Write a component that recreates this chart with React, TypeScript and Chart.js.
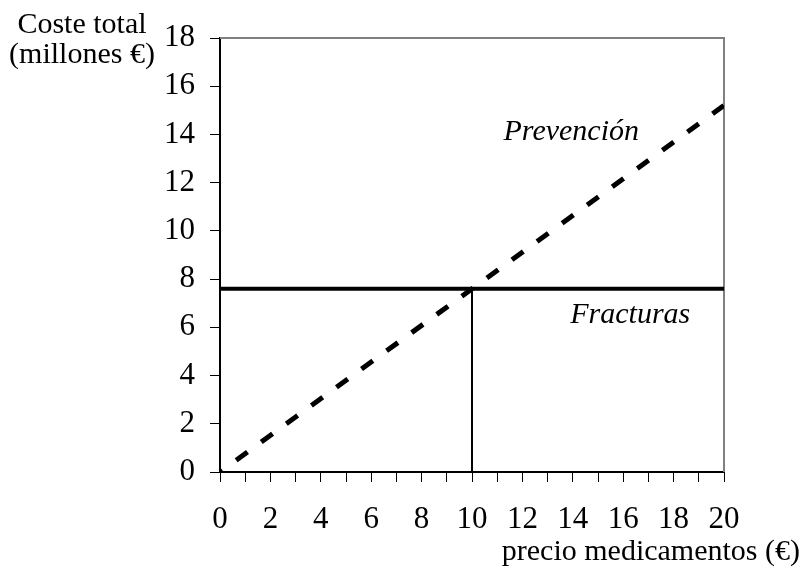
import React, { useEffect, useRef } from 'react';
import { Chart, registerables } from 'chart.js';

Chart.register(...registerables);

// Data
const preventionPrice = [0, 20];
const preventionCost = [0, 15.2];
const fracturePrice = [0, 20];
const fractureCost = [7.6, 7.6];
const breakEvenPrice = [10, 10];
const breakEvenCost = [0, 7.6];

const xMin = 0;
const xMax = 20;
const yMin = 0;
const yMax = 18;

const seriesLabelTexts = ['Prevención', 'Fracturas'];
const seriesLabelX = [11.25, 13.9];
const seriesLabelY = [13.75, 6.2];

const yTitleLines = ['Coste total', '(millones €)'];
const xTitle = 'precio medicamentos (€)';

const FONT = '"Liberation Serif", "Times New Roman", serif';

const toPoints = (xs: number[], ys: number[]) => xs.map((x, i) => ({ x, y: ys[i] }));

const overlayPlugin = {
  id: 'overlay',
  beforeDatasetsDraw(chart: any) {
    const { ctx, chartArea } = chart;
    ctx.save();
    ctx.strokeStyle = '#808080';
    ctx.lineWidth = 2;
    ctx.beginPath();
    ctx.moveTo(chartArea.left, chartArea.top);
    ctx.lineTo(chartArea.right, chartArea.top);
    ctx.lineTo(chartArea.right, chartArea.bottom);
    ctx.stroke();
    ctx.restore();
  },
  afterDatasetsDraw(chart: any) {
    const { ctx, scales } = chart;
    ctx.save();
    ctx.fillStyle = '#000';
    ctx.textBaseline = 'alphabetic';
    ctx.font = `italic 30px ${FONT}`;
    ctx.textAlign = 'left';
    seriesLabelTexts.forEach((t, i) => {
      ctx.fillText(t, scales.x.getPixelForValue(seriesLabelX[i]), scales.y.getPixelForValue(seriesLabelY[i]));
    });
    ctx.font = `30px ${FONT}`;
    ctx.textAlign = 'center';
    ctx.fillText(yTitleLines[0], 82, 33);
    ctx.fillText(yTitleLines[1], 82, 63);
    ctx.textAlign = 'right';
    ctx.fillText(xTitle, 800, 560);
    ctx.restore();
  },
};

export default function App() {
  const ref = useRef<HTMLCanvasElement>(null);

  useEffect(() => {
    document.body.style.margin = '0';
    const canvas = ref.current;
    if (!canvas) return;
    const chart = new Chart(canvas, {
      type: 'scatter',
      data: {
        datasets: [
          {
            label: 'Equilibrio',
            data: toPoints(breakEvenPrice, breakEvenCost),
            showLine: true,
            borderColor: '#000',
            borderWidth: 2,
            pointRadius: 0,
            fill: false,
          },
          {
            label: 'Fracturas',
            data: toPoints(fracturePrice, fractureCost),
            showLine: true,
            borderColor: '#000',
            borderWidth: 4,
            pointRadius: 0,
            fill: false,
          },
          {
            label: 'Prevención',
            data: toPoints(preventionPrice, preventionCost),
            showLine: true,
            borderColor: '#000',
            borderWidth: 5,
            borderDash: [14, 17],
            borderDashOffset: 11,
            borderCapStyle: 'butt',
            pointRadius: 0,
            fill: false,
          },
        ],
      },
      options: {
        animation: false,
        responsive: false,
        layout: { padding: { left: 0, top: 38, right: 81, bottom: 0 } },
        plugins: {
          legend: { display: false },
          tooltip: { enabled: false },
          title: { display: false },
        },
        scales: {
          x: {
            type: 'linear',
            min: xMin,
            max: xMax,
            afterFit: (s: any) => {
              s.height = 105;
            },
            ticks: {
              stepSize: 1,
              autoSkip: false,
              maxRotation: 0,
              padding: 19,
              color: '#000',
              font: { family: FONT, size: 31 },
              callback: (v: any) => (Number(v) % 2 === 0 ? String(v) : ''),
            },
            grid: {
              display: true,
              drawOnChartArea: false,
              drawTicks: true,
              tickLength: 10,
              color: '#000',
              lineWidth: 1,
            },
            border: { display: true, color: '#000', width: 2 },
          },
          y: {
            type: 'linear',
            min: yMin,
            max: yMax,
            afterFit: (s: any) => {
              s.width = 220;
            },
            ticks: {
              stepSize: 2,
              padding: 15,
              color: '#000',
              font: { family: FONT, size: 31 },
            },
            grid: {
              display: true,
              drawOnChartArea: false,
              drawTicks: true,
              tickLength: 10,
              color: '#000',
              lineWidth: 1,
            },
            border: { display: true, color: '#000', width: 2 },
          },
        },
      },
      plugins: [overlayPlugin],
    });
    return () => chart.destroy();
  }, []);

  return (
    <canvas ref={ref} width={805} height={577} style={{ display: 'block' }} />
  );
}
